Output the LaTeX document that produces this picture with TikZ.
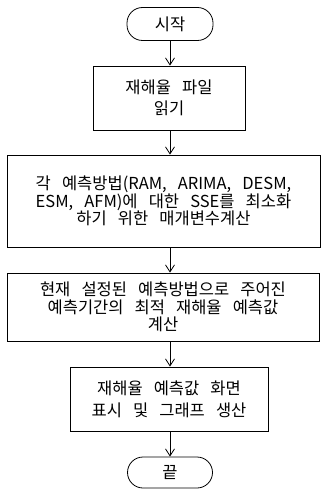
\documentclass[tikz,border=0pt]{standalone}
\usepackage{fontspec}
\setmainfont{Noto Sans CJK KR}
\newcommand{\ws}{\hspace{0.45em}}
\usetikzlibrary{arrows.meta}
\begin{document}
\begin{tikzpicture}[x=1pt,y=1pt,
  every node/.style={font=\fontsize{16.5}{17.8}\selectfont, align=center, inner sep=0pt},
  box/.style={draw, line width=0.8pt},
  term/.style={draw, line width=0.8pt, rounded corners=15.5pt},
  flow/.style={draw, line width=0.8pt, -{Straight Barb[length=7pt,width=9pt,line width=0.8pt]}}]
\useasboundingbox (0,0) rectangle (324,-489);
\node[term, minimum width=86pt, minimum height=33pt] (start) at (170,-24) {시작};
\node[box, minimum width=152pt, minimum height=64pt] (b1) at (169,-98) {재해율 \ws 파일\\[3.5pt]읽기};
\node[box, minimum width=313pt, minimum height=92pt] (b2) at (163.5,-201) {각 \ws 예측방법(RAM, \ws ARIMA, \ws DESM,\\ESM, \ws AFM)에 \ws 대한 \ws SSE를 \ws 최소화\\하기 \ws 위한 \ws 매개변수계산};
\node[box, minimum width=312pt, minimum height=68pt] (b3) at (163,-307) {현재 \ws 설정된 \ws 예측방법으로 \ws 주어진\\예측기간의 \ws 최적 \ws 재해율 \ws 예측값\\계산};
\node[box, minimum width=198pt, minimum height=64pt] (b4) at (169,-399) {재해율 \ws 예측값 \ws 화면\\[4pt]표시 \ws 및 \ws 그래프 \ws 생산};
\node[term, minimum width=85pt, minimum height=31pt] (end) at (170,-472.5) {끝};
\draw[flow] (start.south) -- (start.south |- b1.north);
\draw[flow] (start.south |- b1.south) -- (start.south |- b2.north);
\draw[flow] (start.south |- b2.south) -- (start.south |- b3.north);
\draw[flow] (start.south |- b3.south) -- (start.south |- b4.north);
\draw[flow] (start.south |- b4.south) -- (end.north);
\end{tikzpicture}
\end{document}
